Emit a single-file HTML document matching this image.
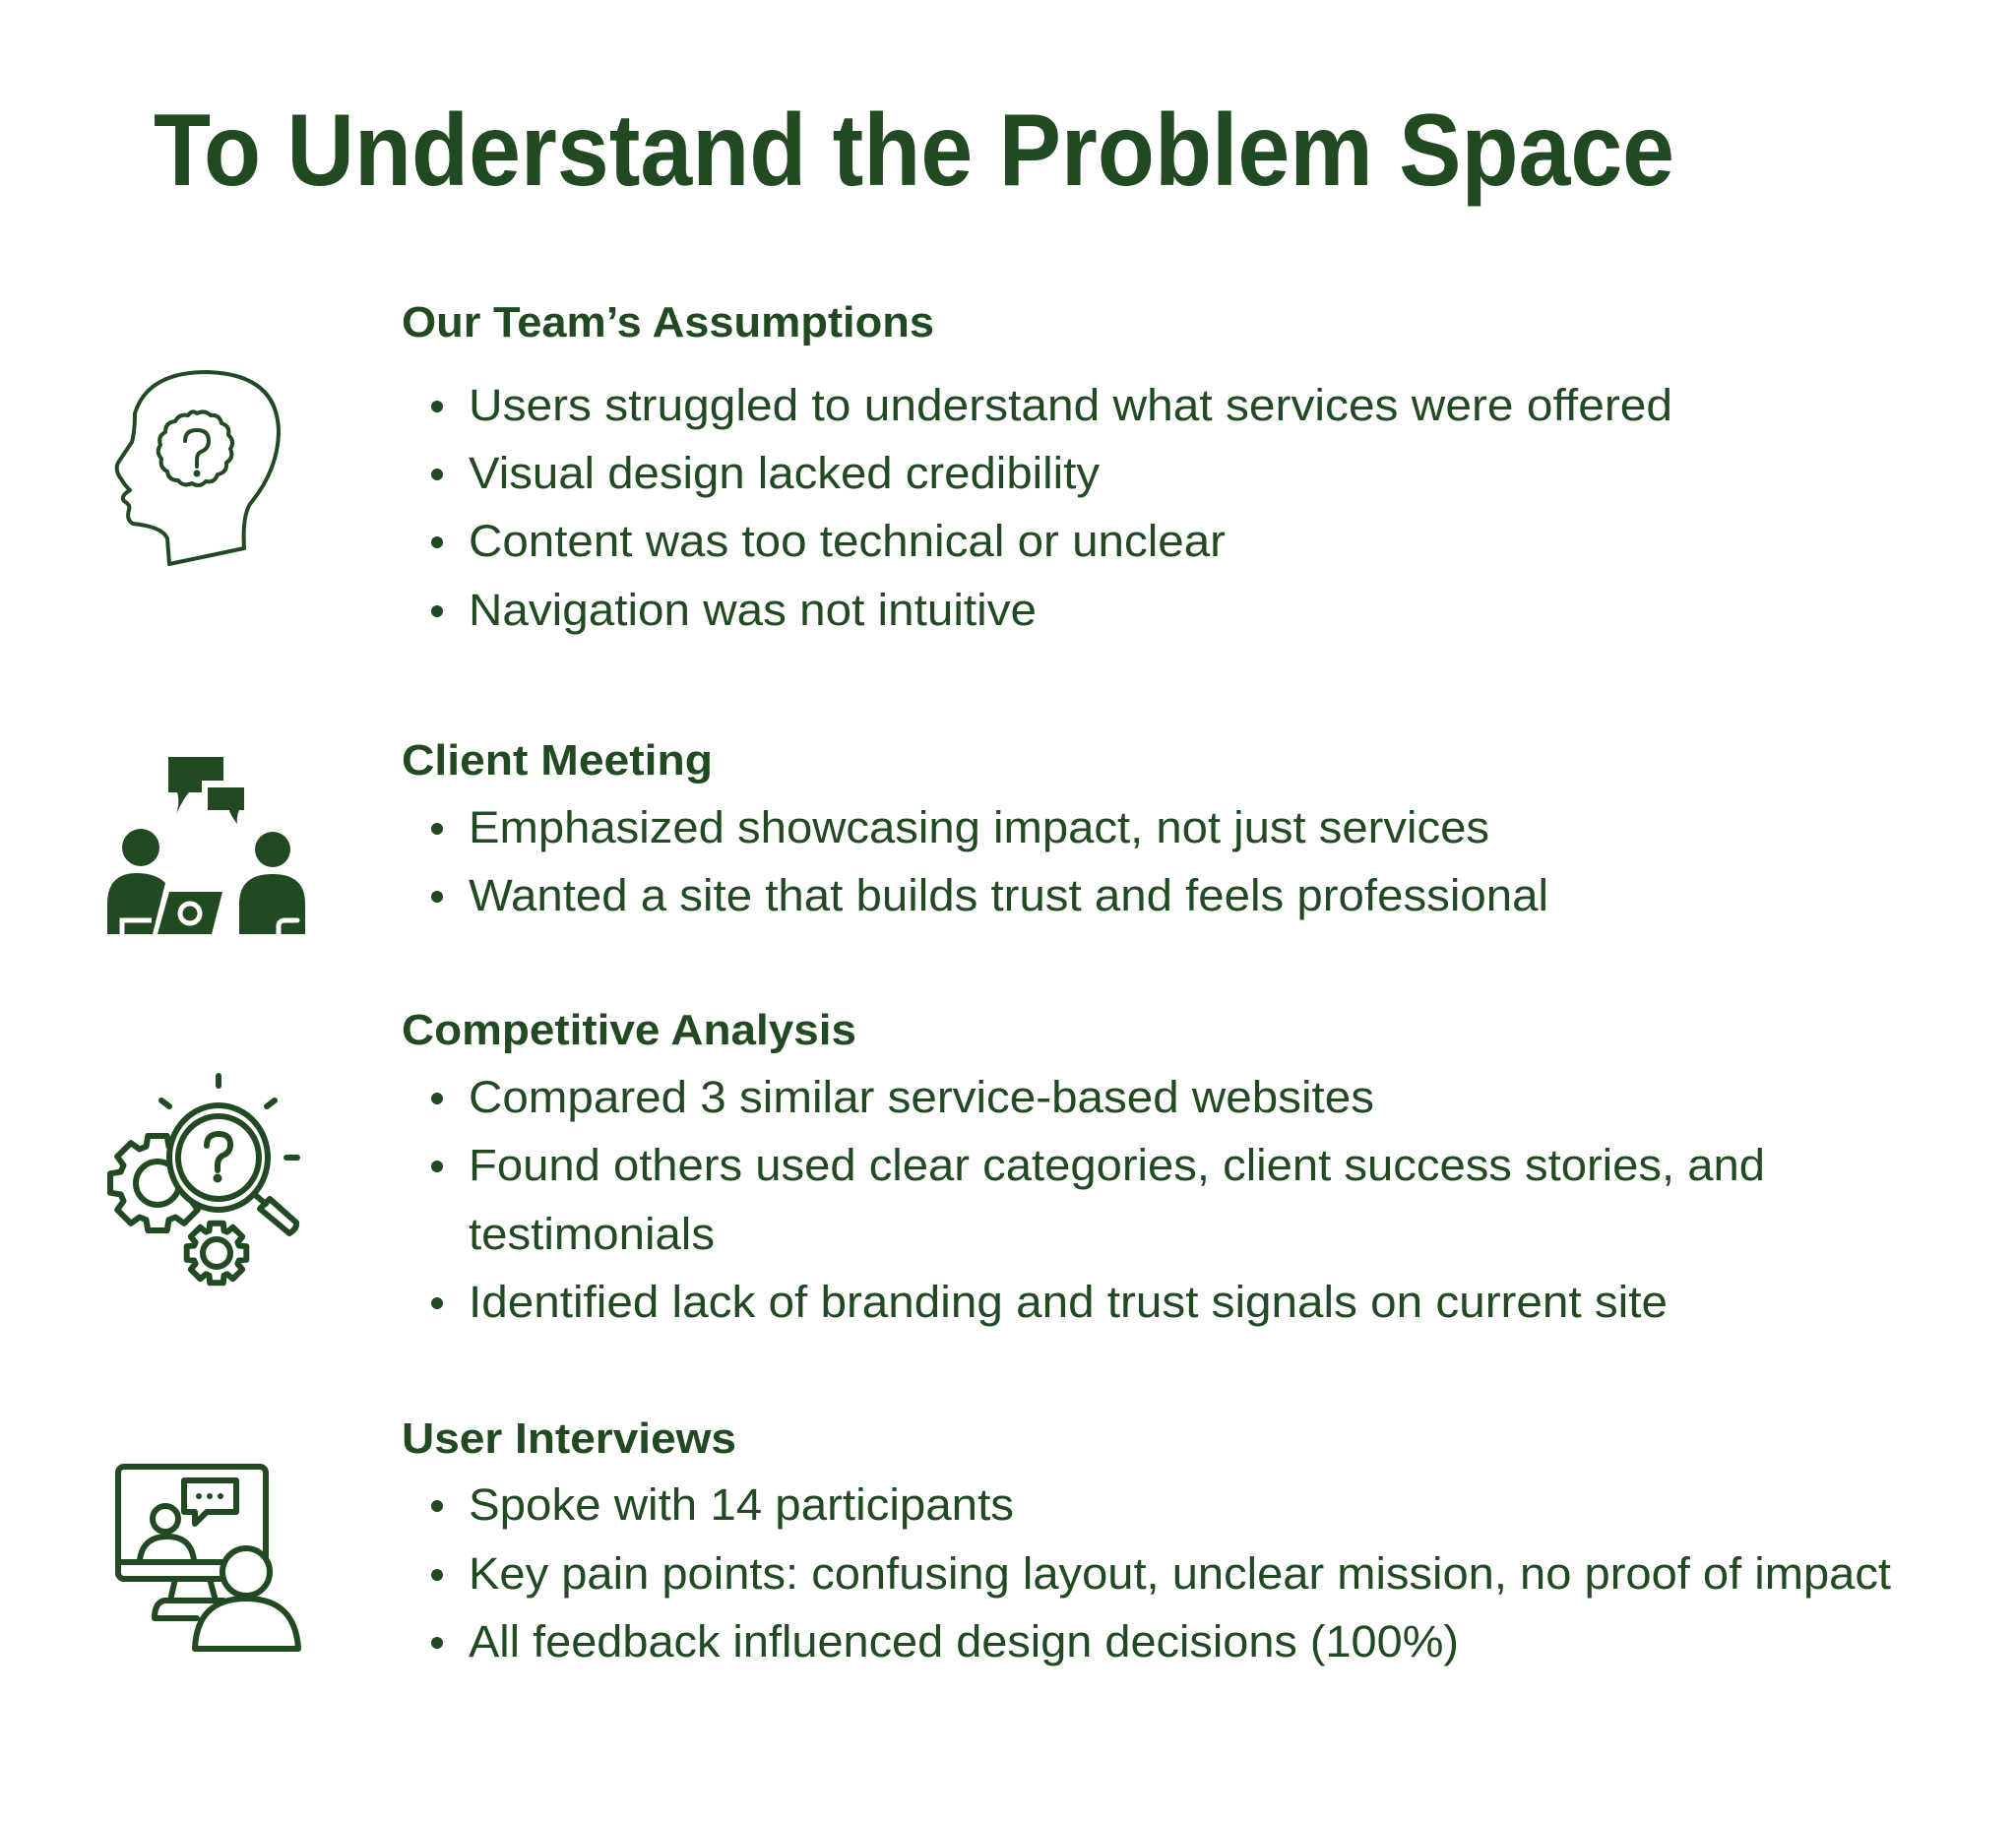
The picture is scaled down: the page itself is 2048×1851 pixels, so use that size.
<!DOCTYPE html>
<html><head><meta charset="utf-8"><style>
html,body{margin:0;padding:0;background:#fff;}
svg{display:block;}
text{font-family:"Liberation Sans",sans-serif;fill:#214a23;}
.h{font-weight:bold;font-size:44px;}
.b{font-size:45px;}
</style></head><body>
<svg width="2048" height="1851" viewBox="0 0 2048 1851" xmlns="http://www.w3.org/2000/svg">
<rect width="2048" height="1851" fill="#fff"/>
<text x="156" y="188" font-size="104" font-weight="bold" textLength="1545" lengthAdjust="spacingAndGlyphs">To Understand the Problem Space</text>

<text class="h" x="408" y="342" textLength="541" lengthAdjust="spacingAndGlyphs">Our Team’s Assumptions</text>
<g fill="#214a23"><circle cx="444" cy="413" r="6"/><circle cx="444" cy="482" r="6"/><circle cx="444" cy="551" r="6"/><circle cx="444" cy="621" r="6"/>
<circle cx="444" cy="842" r="6"/><circle cx="444" cy="911" r="6"/>
<circle cx="444" cy="1116" r="6"/><circle cx="444" cy="1185" r="6"/><circle cx="444" cy="1324" r="6"/>
<circle cx="444" cy="1530" r="6"/><circle cx="444" cy="1600" r="6"/><circle cx="444" cy="1669" r="6"/></g>
<text class="b" x="476" y="427" textLength="1223" lengthAdjust="spacingAndGlyphs">Users struggled to understand what services were offered</text>
<text class="b" x="476" y="496" textLength="641" lengthAdjust="spacingAndGlyphs">Visual design lacked credibility</text>
<text class="b" x="476" y="565" textLength="769" lengthAdjust="spacingAndGlyphs">Content was too technical or unclear</text>
<text class="b" x="476" y="635" textLength="577" lengthAdjust="spacingAndGlyphs">Navigation was not intuitive</text>

<text class="h" x="408" y="787" textLength="316" lengthAdjust="spacingAndGlyphs">Client Meeting</text>
<text class="b" x="476" y="856" textLength="1037" lengthAdjust="spacingAndGlyphs">Emphasized showcasing impact, not just services</text>
<text class="b" x="476" y="925" textLength="1097" lengthAdjust="spacingAndGlyphs">Wanted a site that builds trust and feels professional</text>

<text class="h" x="408" y="1061" textLength="462" lengthAdjust="spacingAndGlyphs">Competitive Analysis</text>
<text class="b" x="476" y="1130" textLength="920" lengthAdjust="spacingAndGlyphs">Compared 3 similar service-based websites</text>
<text class="b" x="476" y="1199" textLength="1317" lengthAdjust="spacingAndGlyphs">Found others used clear categories, client success stories, and</text>
<text class="b" x="476" y="1269" textLength="250" lengthAdjust="spacingAndGlyphs">testimonials</text>
<text class="b" x="476" y="1338" textLength="1218" lengthAdjust="spacingAndGlyphs">Identified lack of branding and trust signals on current site</text>

<text class="h" x="408" y="1476" textLength="340" lengthAdjust="spacingAndGlyphs">User Interviews</text>
<text class="b" x="476" y="1544" textLength="554" lengthAdjust="spacingAndGlyphs">Spoke with 14 participants</text>
<text class="b" x="476" y="1614" textLength="1445" lengthAdjust="spacingAndGlyphs">Key pain points: confusing layout, unclear mission, no proof of impact</text>
<text class="b" x="476" y="1683" textLength="1006" lengthAdjust="spacingAndGlyphs">All feedback influenced design decisions (100%)</text>

<!-- head icon -->
<g fill="none" stroke="#214a23" stroke-width="4" stroke-linejoin="round" stroke-linecap="round">
<path d="M172,573 L170,547 Q165,535 135,532 Q128,528 131,518 Q133,513 126,509 Q122,504 132,498 Q126,492 124,488 Q116,478 120,470 L134,449 Q137,438 137,420 Q150,378 210,378 Q283,380 283,440 Q282,478 254,512 Q246,525 248,557 Z"/>
<path d="M200,420 q8,-4 14,2 q9,-1 11,8 q9,3 7,12 q7,6 2,14 q4,9 -4,14 q1,10 -9,12 q-3,9 -12,7 q-6,7 -14,2 q-9,4 -14,-3 q-10,0 -11,-9 q-8,-4 -6,-13 q-6,-7 -1,-14 q-3,-9 5,-13 q0,-10 10,-11 q4,-8 13,-6 q4,-6 9,-2 z"/>
<path d="M188,448 q0,-11 12,-11 q12,0 12,11 q0,8 -8,11 q-4,2 -4,8 v7"/>
<circle cx="200" cy="481" r="1.5" fill="#214a23"/>
</g>

<!-- meeting icon -->
<g fill="#214a23">
<path d="M171,769 H227 V793 H205 V805 H192 Q186,812 179,827 Q183,815 180,805 H171 Z"/>
<path d="M211,800 H248 V823 H243 Q240,830 241,837 Q234,828 233,823 H211 Z"/>
<circle cx="143" cy="861" r="19"/>
<path d="M109,949 V918 Q109,887 139,887 Q158,887 168,897 L155,949 Z"/>
<path d="M172,906 H226 L215,949 H160 Z"/>
<circle cx="277" cy="863" r="18"/>
<path d="M243,949 V918 Q243,888 277,888 Q310,888 310,918 V949 Z"/>
</g>
<circle cx="193" cy="928" r="10" fill="none" stroke="#fff" stroke-width="5"/>
<path d="M124,951 V935 H154" fill="none" stroke="#fff" stroke-width="5"/>
<path d="M283,951 V941 Q283,935 290,935 H302" fill="none" stroke="#fff" stroke-width="5" stroke-linecap="round"/>

<!-- gears icon -->
<g fill="none" stroke="#214a23" stroke-width="6" stroke-linejoin="round" stroke-linecap="round">
<line x1="222" y1="1093" x2="222" y2="1103"/>
<line x1="164" y1="1118" x2="172" y2="1124"/>
<line x1="271" y1="1124" x2="279" y2="1118"/>
<line x1="291" y1="1176" x2="302" y2="1176"/>
<path id="g1" fill="#fff" d=""/>
<circle cx="160" cy="1202" r="22"/>
<path d="M258,1213 L270,1223" />
<path d="M264,1228 L274,1218 L301,1242 Q302,1248 294,1253 Z"/>
<ellipse cx="222" cy="1176" rx="50" ry="53" fill="#fff"/>
<ellipse cx="222" cy="1176" rx="41" ry="42"/>
<path d="M210,1164 q0,-12 12,-12 q12,0 12,11 q0,8 -8,11 q-5,3 -5,10 v5"/>
<circle cx="221" cy="1197" r="1.5" fill="#214a23"/>
<path id="g2" fill="#fff" d=""/>
<circle cx="220" cy="1273" r="14"/>
</g>

<!-- interview icon -->
<g transform="translate(0,-9)">
<g fill="none" stroke="#214a23" stroke-width="6" stroke-linejoin="round" stroke-linecap="round">
<rect x="120" y="1499" width="150" height="114" rx="6"/>
<line x1="120" y1="1596" x2="230" y2="1596"/>
<path d="M178,1613 L173,1635 M213,1613 L219,1635"/>
<path d="M227,1635 H167 Q157,1637 157,1653 H200"/>
<path d="M187,1513 H240 V1545 H210 L198,1557 V1545 H187 Z"/>
<circle cx="168" cy="1552" r="13"/>
<path d="M142,1594 Q145,1570 170,1570 Q194,1570 197,1594"/>
</g>
<circle cx="202" cy="1529" r="3" fill="#214a23"/><circle cx="213" cy="1529" r="3" fill="#214a23"/><circle cx="224" cy="1529" r="3" fill="#214a23"/>
<g fill="#fff" stroke="#214a23" stroke-width="6" stroke-linejoin="round">
<circle cx="250" cy="1606" r="24"/>
<path d="M198,1684 Q200,1633 250,1633 Q300,1633 303,1684 Z"/>
</g>
</g>
</svg>
<script>
function gear(cx,cy,ro,ri,n,tw,rw){var d="";for(var i=0;i<n;i++){var a=i*2*Math.PI/n-Math.PI/2;var pts=[[a-rw,ri],[a-tw,ro],[a+tw,ro],[a+rw,ri]];pts.forEach(function(p,j){var x=cx+p[1]*Math.cos(p[0]),y=cy+p[1]*Math.sin(p[0]);d+=(i==0&&j==0?"M":"L")+x.toFixed(1)+","+y.toFixed(1);});}return d+"Z";}
document.getElementById("g1").setAttribute("d",gear(160,1202,49,39,8,0.2,0.3));
document.getElementById("g2").setAttribute("d",gear(220,1273,31,24,8,0.22,0.32));
</script>
</body></html>
